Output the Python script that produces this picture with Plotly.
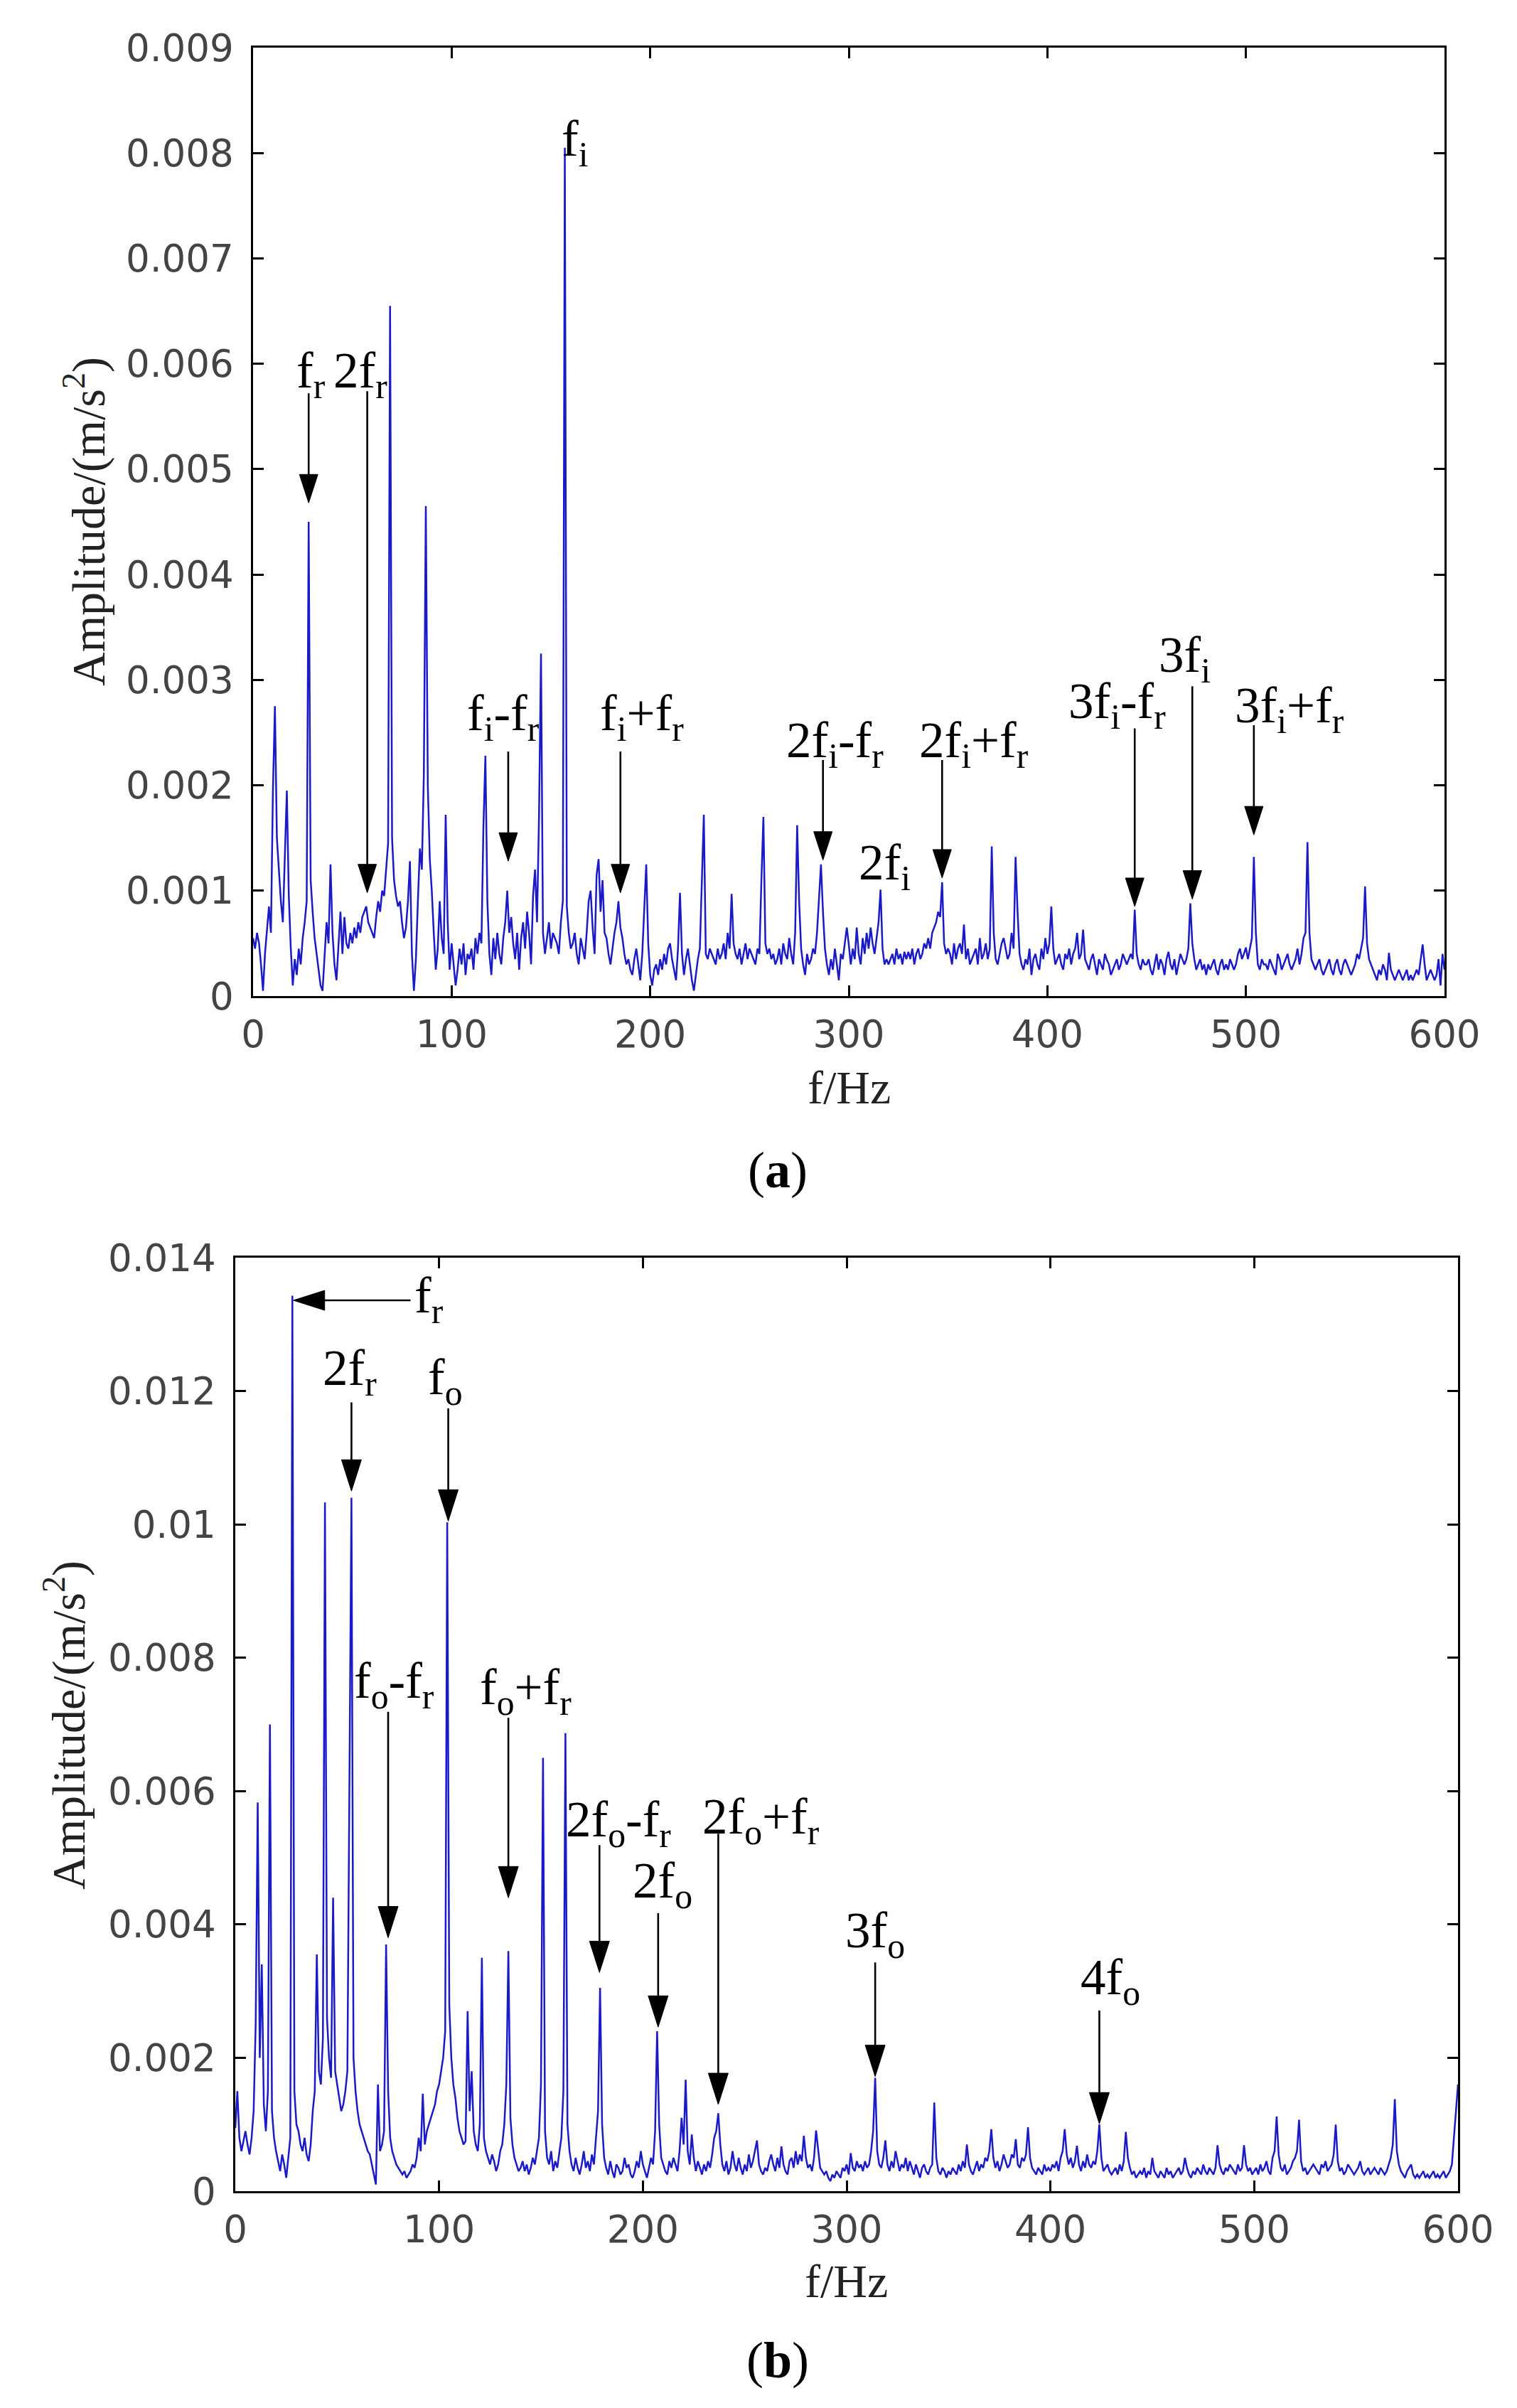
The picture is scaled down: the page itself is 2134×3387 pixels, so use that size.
import plotly.graph_objects as go

# ---------------- data ----------------
# frequency grid (Hz) and spectral amplitude,
# amplitudes stored in units of 1e-5 m/s^2
freq_hz = list(range(0, 601))

amp_a_1e5 = [
    55, 45, 60, 50, 30, 5, 40, 65, 85, 60,            # 0
    195, 275, 150, 120, 90, 70, 135, 195, 95, 45,     # 10
    10, 35, 20, 45, 30, 55, 70, 90, 450, 110,         # 20
    80, 55, 40, 25, 10, 5, 35, 70, 50, 125,           # 30
    60, 30, 15, 45, 80, 40, 75, 50, 45, 60,           # 40
    50, 65, 55, 70, 60, 75, 80, 85, 70, 65,           # 50
    60, 55, 75, 90, 80, 100, 95, 120, 145, 655,       # 60
    150, 110, 95, 85, 90, 70, 55, 65, 90, 128,        # 70
    40, 5, 35, 90, 140, 120, 210, 465, 200, 130,      # 80
    100, 60, 25, 45, 90, 55, 40, 172, 70, 25,         # 90
    50, 30, 10, 25, 45, 30, 50, 20, 40, 35,           # 100
    45, 25, 55, 40, 60, 50, 160, 228, 90, 40,         # 110
    20, 55, 35, 60, 40, 30, 55, 70, 100, 60,          # 120
    75, 50, 35, 60, 25, 55, 70, 45, 80, 60,           # 130
    30, 95, 120, 70, 170, 325, 60, 40, 55, 70,        # 140
    45, 60, 55, 50, 40, 70, 90, 805, 85, 60,          # 150
    45, 50, 60, 40, 30, 55, 45, 35, 60, 90,           # 160
    100, 65, 40, 115, 130, 80, 110, 60, 55, 40,       # 170
    30, 45, 60, 70, 90, 65, 55, 40, 30, 35,           # 180
    25, 20, 35, 45, 30, 15, 40, 80, 125, 50,          # 190
    20, 10, 25, 30, 20, 35, 25, 40, 30, 45,           # 200
    50, 35, 25, 15, 45, 98, 40, 20, 35, 45,           # 210
    30, 15, 5, 20, 35, 45, 110, 172, 40, 35,          # 220
    45, 40, 35, 30, 45, 35, 40, 50, 35, 60,           # 230
    45, 97, 50, 40, 35, 45, 30, 40, 50, 35,           # 240
    45, 40, 35, 30, 45, 40, 110, 170, 50, 40,         # 250
    45, 35, 40, 30, 35, 45, 30, 50, 40, 35,           # 260
    55, 40, 30, 60, 162, 90, 45, 30, 20, 40,          # 270
    30, 35, 45, 40, 60, 90, 125, 80, 45, 30,          # 280
    20, 35, 25, 45, 30, 15, 40, 35, 50, 65,           # 290
    49, 30, 45, 35, 65, 40, 30, 55, 40, 60,           # 300
    45, 65, 50, 40, 55, 70, 101, 45, 30, 35,          # 310
    30, 35, 40, 30, 45, 35, 40, 30, 42, 35,           # 320
    42, 35, 45, 30, 40, 45, 35, 40, 50, 45,           # 330
    55, 45, 60, 65, 70, 80, 75, 108, 50, 40,          # 340
    45, 40, 30, 50, 35, 45, 50, 40, 68, 35,           # 350
    45, 30, 35, 40, 45, 30, 55, 35, 40, 50,           # 360
    35, 45, 142, 60, 35, 30, 40, 50, 55, 45,          # 370
    35, 40, 60, 45, 132, 80, 40, 30, 25, 35,          # 380
    30, 45, 20, 35, 40, 30, 25, 45, 35, 55,           # 390
    40, 50, 85, 45, 30, 35, 40, 30, 25, 40,           # 400
    35, 45, 30, 40, 45, 60, 35, 40, 63, 35,           # 410
    30, 25, 35, 40, 30, 20, 35, 30, 25, 40,           # 420
    34, 30, 20, 25, 30, 35, 25, 30, 40, 35,           # 430
    30, 35, 40, 35, 82, 40, 30, 25, 35, 30,           # 440
    30, 35, 25, 20, 30, 40, 25, 35, 30, 20,           # 450
    35, 42, 30, 25, 35, 20, 30, 40, 35, 30,           # 460
    35, 45, 88, 50, 35, 25, 30, 35, 25, 30,           # 470
    20, 30, 25, 30, 35, 25, 20, 30, 35, 25,           # 480
    30, 25, 35, 30, 25, 30, 40, 45, 35, 40,           # 490
    46, 35, 45, 55, 132, 60, 30, 25, 35, 30,          # 500
    30, 25, 35, 30, 25, 20, 40, 35, 25, 30,           # 510
    35, 40, 30, 25, 30, 35, 45, 30, 40, 55,           # 520
    60, 146, 60, 35, 30, 25, 30, 35, 25, 20,          # 530
    25, 30, 35, 25, 20, 30, 35, 25, 20, 30,           # 540
    35, 30, 25, 20, 25, 30, 40, 35, 45, 55,           # 550
    104, 50, 35, 30, 25, 20, 15, 25, 20, 30,          # 560
    25, 15, 41, 25, 20, 15, 20, 25, 20, 15,           # 570
    20, 25, 15, 20, 15, 20, 25, 20, 35, 49,           # 580
    30, 15, 20, 25, 20, 15, 20, 35, 10, 40,           # 590
    25,                                               # 600
]

amp_b_1e5 = [
    95, 150, 80, 60, 75, 90, 70, 55, 80, 120,         # 0
    250, 583, 200, 340, 130, 90, 150, 700, 120, 80,   # 10
    60, 45, 30, 55, 40, 20, 50, 80, 1343, 150,        # 20
    100, 90, 70, 60, 80, 55, 45, 70, 120, 150,        # 30
    355, 180, 160, 230, 1033, 260, 200, 170, 440, 180,  # 40
    160, 140, 120, 130, 150, 180, 640, 1040, 200, 150,  # 50
    120, 100, 90, 80, 70, 60, 55, 40, 25, 10,         # 60
    160, 60, 70, 90, 370, 150, 80, 60, 50, 40,        # 70
    35, 30, 25, 30, 20, 25, 30, 40, 35, 50,           # 80
    80, 60, 146, 70, 90, 100, 110, 120, 130, 150,     # 90
    160, 180, 200, 240, 1003, 280, 200, 160, 140, 110,  # 100
    90, 80, 70, 75, 270, 120, 180, 90, 70, 60,        # 110
    100, 350, 80, 60, 50, 40, 55, 45, 30, 40,         # 120
    60, 70, 100, 160, 360, 110, 70, 50, 40, 30,       # 130
    35, 45, 30, 40, 25, 35, 50, 40, 60, 80,           # 140
    160, 650, 90, 50, 40, 60, 30, 45, 35, 60,         # 150
    80, 150, 687, 100, 60, 40, 30, 50, 35, 25,        # 160
    40, 60, 35, 45, 30, 55, 40, 80, 120, 305,         # 170
    100, 50, 35, 25, 45, 30, 20, 40, 35, 25,          # 180
    30, 50, 35, 40, 25, 20, 30, 45, 35, 60,           # 190
    40, 30, 20, 35, 50, 40, 90, 240, 100, 50,         # 200
    40, 30, 25, 45, 35, 50, 40, 30, 60, 110,          # 210
    70, 167, 60, 40, 85, 50, 30, 45, 35, 25,          # 220
    40, 30, 45, 35, 55, 80, 90, 117, 70, 40,          # 230
    30, 45, 25, 35, 60, 40, 30, 50, 35, 25,           # 240
    40, 30, 55, 35, 45, 60, 76, 40, 30, 25,           # 250
    35, 30, 45, 55, 40, 30, 50, 35, 67, 40,           # 260
    30, 25, 45, 50, 35, 60, 40, 55, 45, 83,           # 270
    50, 35, 40, 30, 50, 91, 60, 35, 30, 25,           # 280
    30, 20, 15, 25, 20, 30, 25, 20, 35, 30,           # 290
    40, 25, 57, 35, 30, 45, 35, 40, 30, 45,           # 300
    35, 40, 60, 90, 170, 60, 40, 35, 50, 76,          # 310
    40, 30, 45, 35, 60, 45, 30, 40, 35, 50,           # 320
    30, 45, 35, 25, 40, 30, 20, 35, 40, 30,           # 330
    25, 35, 40, 133, 50, 30, 25, 35, 30, 20,          # 340
    30, 25, 35, 30, 25, 40, 30, 45, 35, 70,           # 350
    40, 30, 25, 35, 45, 30, 40, 35, 50, 45,           # 360
    60, 93, 50, 35, 45, 30, 40, 55, 45, 35,           # 370
    40, 55, 50, 78, 40, 35, 50, 45, 55, 96,           # 380
    50, 35, 30, 25, 35, 30, 25, 40, 30, 35,           # 390
    30, 40, 35, 45, 30, 50, 60, 93, 55, 40,           # 400
    50, 35, 45, 68, 40, 30, 45, 35, 55, 40,           # 410
    35, 45, 40, 60, 100, 50, 30, 35, 40, 30,          # 420
    25, 30, 35, 25, 40, 30, 45, 89, 50, 35,           # 430
    25, 30, 20, 25, 30, 25, 35, 20, 30, 25,           # 440
    50, 30, 25, 20, 30, 25, 20, 35, 25, 30,           # 450
    20, 25, 30, 35, 25, 30, 50, 35, 25, 20,           # 460
    30, 25, 35, 30, 25, 40, 30, 25, 35, 30,           # 470
    25, 35, 69, 40, 30, 25, 35, 30, 40, 35,           # 480
    30, 25, 40, 30, 35, 69, 40, 30, 35, 25,           # 490
    30, 35, 25, 40, 30, 35, 45, 30, 25, 50,           # 500
    60, 112, 55, 35, 30, 40, 25, 30, 35, 45,          # 510
    50, 60, 107, 45, 30, 35, 25, 30, 35, 40,          # 520
    35, 30, 25, 40, 35, 45, 30, 35, 40, 55,           # 530
    100, 45, 30, 35, 25, 30, 40, 35, 30, 25,          # 540
    30, 35, 45, 30, 25, 30, 35, 25, 30, 35,           # 550
    30, 25, 35, 30, 25, 30, 40, 50, 70, 138,          # 560
    60, 40, 30, 25, 20, 30, 35, 40, 25, 20,           # 570
    25, 20, 25, 30, 20, 25, 20, 25, 30, 20,           # 580
    25, 20, 25, 30, 20, 25, 30, 40, 80, 120,          # 590
    160,                                              # 600
]

assert len(amp_a_1e5) == len(freq_hz), len(amp_a_1e5)
assert len(amp_b_1e5) == len(freq_hz), len(amp_b_1e5)

x_tick_vals = [0, 100, 200, 300, 400, 500, 600]
x_tick_text = ["0", "100", "200", "300", "400", "500", "600"]
ya_tick_vals = [0, 0.001, 0.002, 0.003, 0.004, 0.005, 0.006, 0.007, 0.008, 0.009]
ya_tick_text = ["0", "0.001", "0.002", "0.003", "0.004", "0.005", "0.006", "0.007", "0.008", "0.009"]
yb_tick_vals = [0, 0.002, 0.004, 0.006, 0.008, 0.010, 0.012, 0.014]
yb_tick_text = ["0", "0.002", "0.004", "0.006", "0.008", "0.01", "0.012", "0.014"]

# peak labels: (text, x, y) and arrows: (x, y_start, y_tip)
labels_a = [
    ("f<sub>r</sub>", 29, 0.0059),
    ("2f<sub>r</sub>", 54, 0.0059),
    ("f<sub>i</sub>", 162, 0.0081),
    ("f<sub>i</sub>-f<sub>r</sub>", 126, 0.00265),
    ("f<sub>i</sub>+f<sub>r</sub>", 196, 0.00265),
    ("2f<sub>i</sub>-f<sub>r</sub>", 293, 0.00239),
    ("2f<sub>i</sub>", 318, 0.00123),
    ("2f<sub>i</sub>+f<sub>r</sub>", 363, 0.00239),
    ("3f<sub>i</sub>-f<sub>r</sub>", 435, 0.00276),
    ("3f<sub>i</sub>", 469, 0.0032),
    ("3f<sub>i</sub>+f<sub>r</sub>", 522, 0.00272),
]
arrows_a = [
    (28, 0.00572, 0.00468),
    (57.5, 0.00574, 0.00098),
    (128.5, 0.00232, 0.00128),
    (185, 0.00232, 0.00098),
    (287, 0.00224, 0.00129),
    (347, 0.00224, 0.00112),
    (444, 0.00254, 0.00085),
    (473, 0.00294, 0.00092),
    (504, 0.00257, 0.00153),
]
labels_b = [
    ("f<sub>r</sub>", 95, 0.01338),
    ("2f<sub>r</sub>", 56, 0.01229),
    ("f<sub>o</sub>", 103, 0.01215),
    ("f<sub>o</sub>-f<sub>r</sub>", 78, 0.0076),
    ("f<sub>o</sub>+f<sub>r</sub>", 142.5, 0.0075),
    ("2f<sub>o</sub>-f<sub>r</sub>", 188, 0.00552),
    ("2f<sub>o</sub>", 209.5, 0.0046),
    ("2f<sub>o</sub>+f<sub>r</sub>", 258, 0.00556),
    ("3f<sub>o</sub>", 314, 0.00385),
    ("4f<sub>o</sub>", 429.5, 0.00315),
]
arrows_b = [
    (57, 0.01183, 0.01050),
    (104.5, 0.01174, 0.01005),
    (75, 0.00719, 0.0038),
    (134, 0.0071, 0.0044),
    (178.7, 0.00519, 0.00328),
    (207.5, 0.00417, 0.00246),
    (237, 0.00536, 0.0013),
    (314, 0.00343, 0.00172),
    (424, 0.00271, 0.00101),
]
# horizontal arrow in (b): (x_start, x_tip, y)
harrow_b = (86, 28.5, 0.01336)

# ---------------- layout helpers (page pixels -> paper fraction) ----------------
OFF = 8
W, H = 2134 - 2 * OFF, 3387 - 2 * OFF


def fx(px):
    return (px - OFF) / W


def fy(py):
    return 1 - (py - OFF) / H


# plot boxes in page pixels: (left, right, top, bottom)
BOX_A = (356, 2032, 67, 1401)
BOX_B = (331, 2051, 1769, 3082)
RANGE_X = [0, 600]
RANGE_YA = [0, 0.009]
RANGE_YB = [0, 0.014]

LINE = "#1a1ac8"
SERIF = "Liberation Serif"
SANS = "DejaVu Sans"
TICKFONT = dict(family=SANS, size=53, color="#444444")

fig = go.Figure()
fig.add_trace(go.Scatter(
    x=freq_hz, y=[v * 1e-5 for v in amp_a_1e5], mode="lines",
    line=dict(color=LINE, width=2.5), xaxis="x", yaxis="y",
    showlegend=False, hoverinfo="skip"))
fig.add_trace(go.Scatter(
    x=freq_hz, y=[v * 1e-5 for v in amp_b_1e5], mode="lines",
    line=dict(color=LINE, width=2.5), xaxis="x2", yaxis="y2",
    showlegend=False, hoverinfo="skip"))

axis_common = dict(
    showline=True, linecolor="black", linewidth=2.5, mirror="ticks",
    ticks="inside", ticklen=15, tickwidth=2.5, tickcolor="black",
    showgrid=False, zeroline=False, tickfont=TICKFONT, fixedrange=True,
    automargin=False,
)

fig.update_layout(
    width=W, height=H, autosize=False,
    margin=dict(l=0, r=0, t=0, b=0, pad=0),
    paper_bgcolor="white", plot_bgcolor="white",
    showlegend=False,
    xaxis=dict(axis_common, domain=[fx(BOX_A[0]), fx(BOX_A[1])], anchor="y", range=RANGE_X,
               tickmode="array", tickvals=x_tick_vals, ticktext=x_tick_text,
               ticklabelstandoff=6),
    yaxis=dict(axis_common, domain=[fy(BOX_A[3]), fy(BOX_A[2])], anchor="x", range=RANGE_YA,
               tickmode="array", tickvals=ya_tick_vals, ticktext=ya_tick_text,
               ticklabelstandoff=14),
    xaxis2=dict(axis_common, domain=[fx(BOX_B[0]), fx(BOX_B[1])], anchor="y2", range=RANGE_X,
                tickmode="array", tickvals=x_tick_vals, ticktext=x_tick_text,
                ticklabelstandoff=6),
    yaxis2=dict(axis_common, domain=[fy(BOX_B[3]), fy(BOX_B[2])], anchor="x2", range=RANGE_YB,
                tickmode="array", tickvals=yb_tick_vals, ticktext=yb_tick_text,
                ticklabelstandoff=14),
)

ann = []
shapes = []
LABFONT = dict(family=SERIF, size=71, color="black")
STEM = dict(color="black", width=2.6)


def px_to_data(box, yrange):
    """data units per page pixel in x and y for a plot box"""
    l, r, t, b = box
    return (RANGE_X[1] - RANGE_X[0]) / (r - l), (yrange[1] - yrange[0]) / (b - t)


for xr, yr, box, yrange, labels, arrows, head in (
        ("x", "y", BOX_A, RANGE_YA, labels_a, arrows_a, (40, 13)),
        ("x2", "y2", BOX_B, RANGE_YB, labels_b, arrows_b, (44, 14))):
    dxp, dyp = px_to_data(box, yrange)
    hl, hw = head  # head length and half width in pixels
    for text, x, y in labels:
        ann.append(dict(text=text, x=x, y=y, xref=xr, yref=yr, showarrow=False,
                        xanchor="center", yanchor="middle", font=LABFONT))
    for x, y0, y1 in arrows:
        ybase = y1 + hl * dyp
        shapes.append(dict(type="line", xref=xr, yref=yr, x0=x, x1=x, y0=y0, y1=ybase,
                           line=STEM, layer="above"))
        shapes.append(dict(type="path", xref=xr, yref=yr, layer="above",
                           path=f"M{x - hw * dxp},{ybase} L{x + hw * dxp},{ybase} L{x},{y1} Z",
                           fillcolor="black", line=dict(color="black", width=1)))
    if xr == "x2":
        hx0, hx1, hy = harrow_b
        xbase = hx1 + hl * dxp
        shapes.append(dict(type="line", xref=xr, yref=yr, x0=hx0, x1=xbase, y0=hy, y1=hy,
                           line=STEM, layer="above"))
        shapes.append(dict(type="path", xref=xr, yref=yr, layer="above",
                           path=f"M{xbase},{hy - hw * dyp} L{xbase},{hy + hw * dyp} L{hx1},{hy} Z",
                           fillcolor="black", line=dict(color="black", width=1)))

# axis titles and panel captions
TITLEFONT = dict(family=SERIF, size=66, color="#222222")
CAPFONT = dict(family=SERIF, size=72, color="black")
for (px, py, text, angle, font) in [
    (120, 734, "Amplitude/(m/s<sup>2</sup>)", -90, TITLEFONT),
    (1194, 1530, "f/Hz", 0, TITLEFONT),
    (1094, 1646, "(<b>a</b>)", 0, CAPFONT),
    (92, 2427, "Amplitude/(m/s<sup>2</sup>)", -90, TITLEFONT),
    (1190, 3208, "f/Hz", 0, TITLEFONT),
    (1094, 3320, "(<b>b</b>)", 0, CAPFONT),
]:
    ann.append(dict(text=text, x=fx(px), y=fy(py), xref="paper", yref="paper",
                    showarrow=False, xanchor="center", yanchor="middle",
                    textangle=angle, font=font))

fig.update_layout(annotations=ann, shapes=shapes)

fig.write_html("out.html")
